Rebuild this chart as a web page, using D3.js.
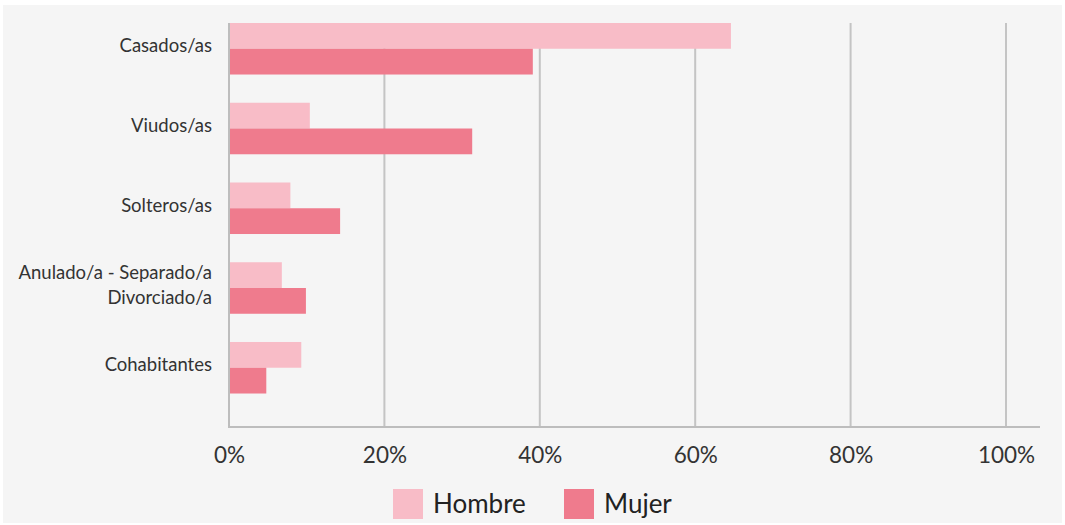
<!DOCTYPE html>
<html>
<head>
<meta charset="utf-8">
<script src="https://cdn.jsdelivr.net/npm/d3@7"></script>
<style>
  body { margin: 0; background: #fff; }
  svg { display: block; font-family: Lato, "Open Sans", sans-serif; }
</style>
</head>
<body>
<svg id="chart" width="1065" height="525"></svg>
<script>
// estado civil por sexo (%)
const categories = ['Casados/as', 'Viudos/as', 'Solteros/as', 'Anulado/a - Separado/a|Divorciado/a', 'Cohabitantes'];
const series = ['Hombre', 'Mujer'];
const hombre = [64.6, 10.4, 7.9, 6.8, 9.3];
const mujer = [39.1, 31.3, 14.3, 9.9, 4.8];
const xTicks = [0, 20, 40, 60, 80, 100];
const colors = ['#f8bcc7', '#ef7b8d'];

const svg = d3.select('#chart');
const margin = { top: 23, right: 25, bottom: 98, left: 229 };
const width = 1065 - margin.left - margin.right;
const height = 525 - margin.top - margin.bottom;

svg.append('rect').attr('x', 3).attr('y', 5).attr('width', 1059).attr('height', 518).attr('fill', '#f5f5f5');

const g = svg.append('g').attr('transform', `translate(${margin.left},${margin.top})`);

const x = d3.scaleLinear().domain([0, 100]).range([0, 777]);
const y = d3.scaleBand().domain(categories).range([0, height])
    .paddingInner(0.354).paddingOuter(0.21).align(0);
const ySub = d3.scaleBand().domain(series).range([0, y.bandwidth()]);

// grid lines
g.append('g').selectAll('line').data(xTicks.slice(1)).enter().append('line')
    .attr('x1', d => x(d)).attr('x2', d => x(d))
    .attr('y1', 0).attr('y2', height)
    .attr('stroke', '#c4c4c4').attr('stroke-width', 2);

const rows = categories.map((c, i) => ({ cat: c, values: [hombre[i], mujer[i]] }));

const grp = g.selectAll('.grp').data(rows).enter().append('g')
    .attr('transform', d => `translate(0,${y(d.cat)})`);

grp.selectAll('rect').data(d => d.values.map((v, j) => ({ key: series[j], v: v, j: j })))
    .enter().append('rect')
    .attr('x', 0)
    .attr('y', d => ySub(d.key))
    .attr('width', d => x(d.v))
    .attr('height', ySub.bandwidth())
    .attr('fill', d => colors[d.j]);

// category labels
grp.each(function(d) {
    const lines = d.cat.split('|');
    const t = d3.select(this).append('text')
        .attr('x', -17)
        .attr('y', y.bandwidth() / 2 - (lines.length - 1) * 12.5)
        .attr('text-anchor', 'end')
        .attr('font-size', 18.5)
        .attr('fill', '#333');
    lines.forEach((l, k) => {
        t.append('tspan').attr('x', -17).attr('dy', k === 0 ? '0.2em' : 25).text(l);
    });
});

// axes lines
g.append('line').attr('x1', 0).attr('x2', 0).attr('y1', 0).attr('y2', height + 1)
    .attr('stroke', '#bdbdbd').attr('stroke-width', 2);
g.append('line').attr('x1', -1).attr('x2', 811).attr('y1', height).attr('y2', height)
    .attr('stroke', '#bdbdbd').attr('stroke-width', 2);

const xAxis = g.append('g').attr('transform', `translate(0,${height})`)
    .call(d3.axisBottom(x).tickValues(xTicks).tickFormat(d => d + '%').tickSize(0).tickPadding(20));
xAxis.select('.domain').remove();
xAxis.selectAll('text').attr('font-size', 22.5).attr('fill', '#333').style('font-family', 'Lato, sans-serif');

// legend
const legend = svg.append('g').attr('transform', 'translate(393,489)');
const lx = [0, 171];
series.forEach((s, i) => {
    const item = legend.append('g').attr('transform', `translate(${lx[i]},0)`);
    item.append('rect').attr('width', 30).attr('height', 30).attr('fill', colors[i]);
    item.append('text').attr('x', 40).attr('y', 15).attr('dy', '0.36em')
        .attr('font-size', 26).attr('fill', '#222').text(s);
});
</script>
</body>
</html>
